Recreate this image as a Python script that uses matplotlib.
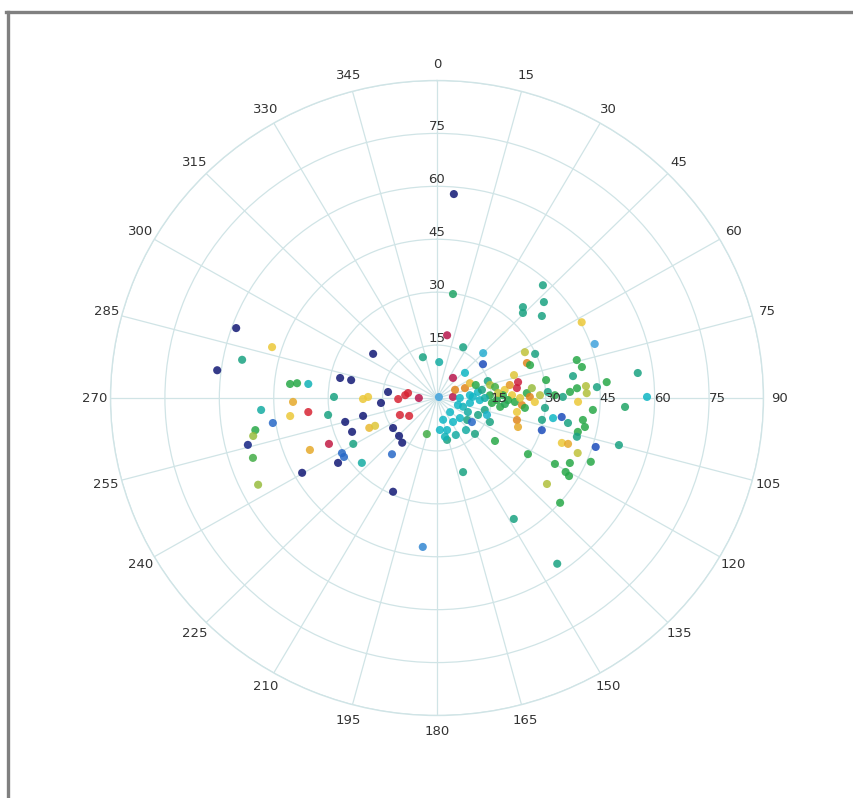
import numpy as np
import matplotlib
matplotlib.use('Agg')
import matplotlib.pyplot as plt
from matplotlib.colors import LinearSegmentedColormap
from matplotlib.lines import Line2D

# angle (deg, clockwise from north), radius, colour value
theta_deg = [
    4.6, 8.5, 8.9, 42.4, 47.3, 42.6, 44.5, 51.2, 61.7, 70.6, 82.7, 89.7, 92.8, 104.9, 107.6,
    74.4, 77.6, 80.6, 80.4, 84.5, 86.0, 85.3, 88.1, 85.9, 87.3, 91.6, 94.5, 98.8, 101.4, 103.9,
    102.1, 100.1, 98.9, 101.1, 107.5, 105.9, 110.3, 109.8, 111.9, 119.9, 116.7, 120.6, 121.3, 113.1,
    128.8, 131.2, 148.3, 144.8, 161.1, 185.3, 122.4, 127.3, 166.8,
    26.6, 341.4, 3.4, 45.0, 52.9, 65.2, 61.8, 68.2, 70.0, 37.7, 47.3, 71.1, 63.0, 86.0, 70.0,
    65.2, 81.4, 92.9, 88.0, 109.0, 87.0, 98.2, 92.0, 75.8, 78.6, 82.7, 86.8, 87.8, 89.3, 92.4,
    93.0, 100.2, 105.8, 110.2, 132.0, 126.8, 125.3, 164.7, 175.0, 163.0, 168.7, 147.0, 115.0, 134.2,
    85.0, 109.0, 104.4, 83.0, 91.7, 94.9, 88.4, 86.8, 88.6, 89.5,
    65.0, 115.0, 138.0, 113.0, 87.5, 79.0, 90.0,
    98.7, 71.0, 79.5, 95.3, 85.2, 95.2, 79.6, 90.0, 96.6, 83.9, 95.4, 90.0, 138.7, 153.7,
    109.2, 73.0,
    289.7, 287.6, 281.4, 277.4, 305.4, 282.0, 282.1, 275.6, 276.2, 276.4, 270.6, 269.2, 270.9,
    277.2, 264.8, 268.4, 275.2, 280.0, 270.0, 244.8, 236.5, 266.0, 268.4, 262.8, 263.6, 260.9,
    256.0, 255.0, 247.7, 245.6, 245.2, 234.9, 224.2, 217.1, 195.3, 261.1, 259.7, 258.0, 255.7,
    251.5, 247.2, 246.4, 240.6, 239.2, 236.9, 236.0, 228.4, 217.9, 240.3, 243.5, 204.5,
]
radius = [
    58.0, 29.8, 18.0, 43.3, 40.1, 35.0, 33.8, 37.1, 45.3, 46.1, 55.8, 57.9, 51.9, 51.9, 45.9,
    40.0, 40.9, 38.0, 30.5, 47.0, 44.2, 41.2, 41.3, 38.7, 36.7, 38.9, 43.1, 40.7, 41.6, 40.0,
    29.6, 32.5, 34.8, 36.8, 30.3, 40.1, 36.7, 38.4, 41.8, 37.5, 41.0, 41.2, 42.6, 46.1,
    38.9, 45.1, 40.3, 57.5, 22.2, 42.4, 29.7, 20.1, 12.2,
    16.1, 12.2, 10.2, 18.0, 15.9, 29.8, 27.5, 26.7, 27.3, 7.2, 10.5, 14.8, 0.6, 4.4, 8.2,
    10.0, 11.4, 11.8, 9.9, 7.6, 14.6, 17.6, 16.5, 15.1, 22.8, 22.2, 24.8, 20.7, 25.6, 27.0,
    21.5, 22.4, 22.9, 23.8, 8.5, 10.4, 11.8, 6.4, 9.1, 9.5, 11.2, 8.1, 16.1, 14.6,
    9.1, 6.1, 13.6, 18.8, 19.6, 23.5, 28.4, 30.6, 32.5, 34.7,
    5.5, 9.4, 5.4, 12.3, 18.2, 16.3, 13.2,
    9.2, 11.3, 12.6, 15.2, 16.9, 18.8, 20.4, 22.9, 24.4, 26.3, 29.9, 6.3, 12.1, 11.7,
    14.6, 22.2,
    58.8, 47.7, 54.8, 61.1, 21.6, 27.3, 24.2, 40.7, 38.8, 35.7, 28.4, 20.4, 19.0,
    13.6, 15.5, 10.7, 8.8, 8.1, 5.0, 11.3, 9.2, 48.6, 39.7, 40.8, 35.7, 30.4,
    21.0, 26.2, 25.3, 20.5, 18.8, 14.8, 15.0, 15.9, 10.6, 45.8, 50.9, 51.8, 53.8,
    53.5, 38.0, 32.5, 26.5, 30.5, 30.6, 32.9, 27.7, 20.2, 42.8, 55.1, 29.2,
]
value = [
    0.02, 0.55, 1.0, 0.5, 0.5, 0.5, 0.5, 0.5, 0.78, 0.3, 0.5, 0.4, 0.55, 0.5, 0.15,
    0.6, 0.6, 0.5, 0.6, 0.6, 0.5, 0.7, 0.7, 0.6, 0.6, 0.78, 0.6, 0.6, 0.6, 0.6,
    0.5, 0.4, 0.15, 0.5, 0.15, 0.5, 0.78, 0.82, 0.72, 0.6, 0.6, 0.6, 0.6, 0.6,
    0.7, 0.6, 0.5, 0.5, 0.5, 0.25, 0.6, 0.6, 0.5,
    0.5, 0.5, 0.45, 0.35, 0.15, 0.5, 0.72, 0.86, 0.6, 1.0, 0.4, 0.5, 0.3, 1.0, 0.86,
    0.8, 0.4, 0.4, 0.4, 0.42, 0.6, 0.6, 0.6, 0.7, 0.96, 0.96, 0.6, 0.78, 0.86, 0.78,
    0.6, 0.78, 0.86, 0.82, 0.4, 0.5, 0.2, 0.4, 0.4, 0.4, 0.42, 0.4, 0.5, 0.5,
    0.4, 0.4, 0.5, 0.78, 0.6, 0.86, 0.7, 0.5, 0.6, 0.5,
    0.86, 0.45, 0.4, 0.5, 0.6, 0.62, 0.45,
    0.4, 0.6, 0.5, 0.6, 0.72, 0.58, 0.84, 0.76, 0.6, 0.68, 0.5, 0.4, 0.45, 0.45,
    0.38, 0.76,
    0.02, 0.78, 0.5, 0.02, 0.02, 0.02, 0.02, 0.6, 0.6, 0.42, 0.5, 0.78, 0.78,
    0.02, 0.02, 0.94, 0.94, 0.94, 1.0, 0.94, 0.94, 0.45, 0.82, 0.78, 0.94, 0.5,
    0.02, 0.02, 0.02, 0.8, 0.76, 0.02, 0.02, 0.02, 0.62, 0.2, 0.6, 0.68, 0.05,
    0.62, 0.82, 0.98, 0.5, 0.2, 0.2, 0.02, 0.45, 0.2, 0.02, 0.68, 0.02,
]

theta_ticks = list(range(0, 360, 15))
r_ticks = [15, 30, 45, 60, 75, 90]

cmap = LinearSegmentedColormap.from_list('dots', [
    (0.0, '#10106a'), (0.15, '#1c4cbc'), (0.3, '#40a4dc'), (0.4, '#10b6c4'),
    (0.5, '#1aa282'), (0.6, '#28a848'), (0.7, '#b0c03c'), (0.78, '#ecc838'),
    (0.86, '#e08a1c'), (0.94, '#d82434'), (1.0, '#b8164c')])

fig = plt.figure(figsize=(8.54, 7.98), dpi=100)
ax = fig.add_axes([0.1294, 0.1034, 0.7646, 0.7957], projection='polar')
ax.set_aspect('auto')
ax.set_theta_zero_location('N')
ax.set_theta_direction(-1)
ax.set_rlim(0, 90)

grid_col = '#d0e4e6'
ax.set_thetagrids(theta_ticks, [str(t) for t in theta_ticks])
ax.set_rgrids(r_ticks, labels=['15', '30', '45', '60', '75', ''], angle=0)
ax.grid(True, color=grid_col, linewidth=0.9)
ax.spines['polar'].set_color(grid_col)
ax.spines['polar'].set_linewidth(1.0)
ax.tick_params(axis='x', pad=1, labelsize=9.5, labelcolor='#333333')
ax.tick_params(axis='y', labelsize=9.5, labelcolor='#333333')
for lbl in ax.get_yticklabels():
    lbl.set_horizontalalignment('center')

# second set of radial labels along the 90 degree spoke
for rv in r_ticks[:-1]:
    ax.text(np.deg2rad(90), rv + 2.2, str(rv), fontsize=9.5, color='#333333',
            ha='center', va='center', zorder=4)

ax.scatter(np.deg2rad(theta_deg), radius, c=value, cmap=cmap, vmin=0, vmax=1,
           s=34, alpha=0.85, edgecolors='none', zorder=3)

# gray frame at top and left
fig.add_artist(Line2D([0.007, 1.0], [0.985, 0.985], color='#808080', linewidth=2.4))
fig.add_artist(Line2D([0.009, 0.009], [0.0, 0.985], color='#808080', linewidth=2.4))

fig.savefig('out.png', dpi=100)
